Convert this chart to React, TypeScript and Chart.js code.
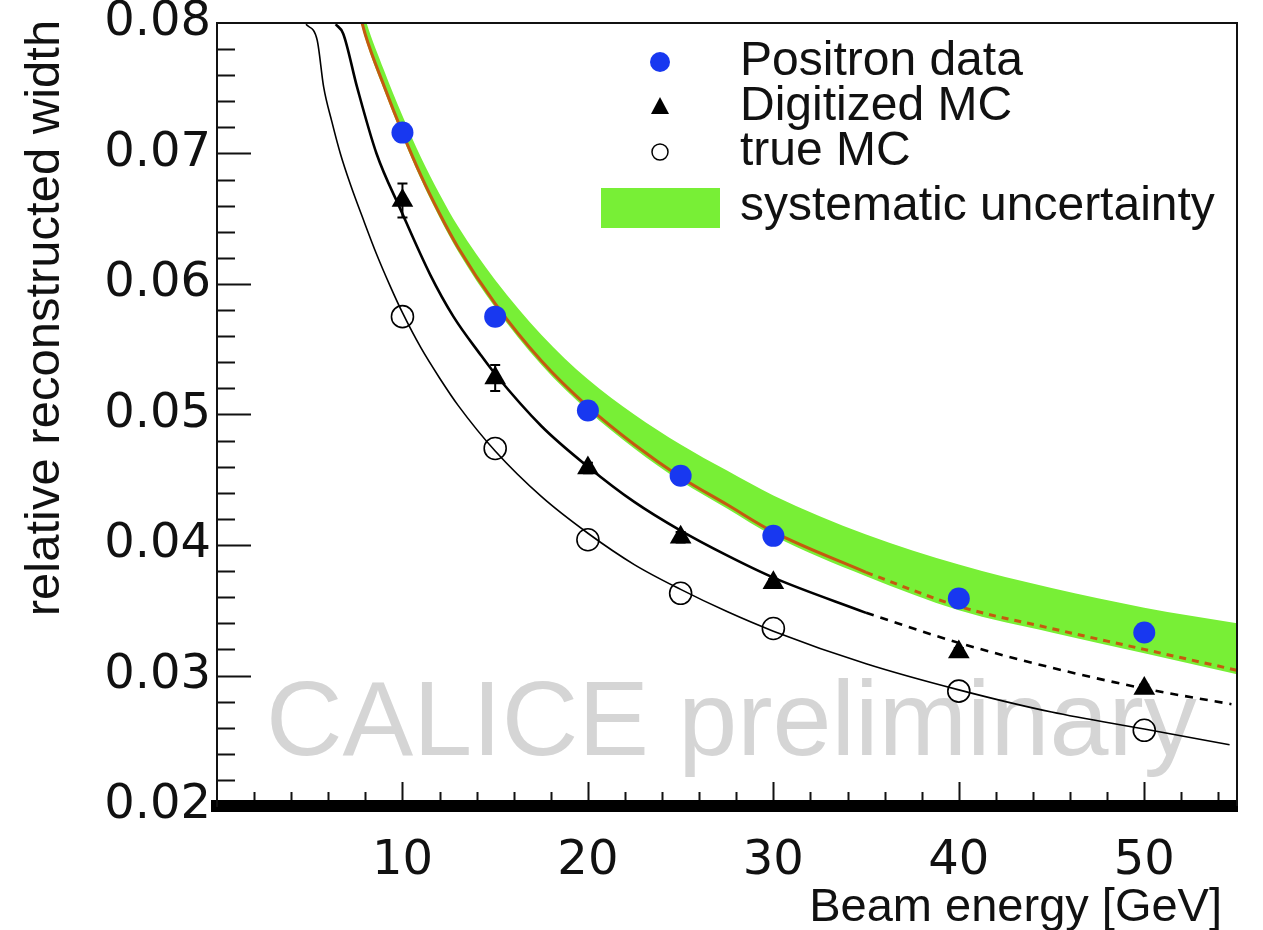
import React, { useEffect, useRef } from 'react';
import { Chart, registerables } from 'chart.js';

Chart.register(...registerables);

// ---------- measured points ----------
const beamEnergies = [10, 15, 20, 25, 30, 40, 50];
const positronData = [0.0716, 0.0575, 0.0503, 0.0453, 0.0407, 0.0359, 0.0333];
const digitizedMC = [0.0664, 0.0528, 0.0459, 0.0406, 0.0371, 0.0318, 0.029];
const digitizedMCErr = [0.0013, 0.001, 0.0004, 0.0004, 0.0003, 0.0003, 0.0003];
const trueMC = [0.0575, 0.0474, 0.0404, 0.0363, 0.0336, 0.0288, 0.0258];

// ---------- fitted curves ----------
const positronFitE = [7.5, 8, 9, 10, 11, 12, 13, 15, 17.5, 20, 22.5, 25, 27.5, 30, 35, 40, 45, 50, 55];
const positronFit = [0.0818, 0.0791, 0.0752, 0.0716, 0.0683, 0.0654, 0.0628, 0.0585, 0.0541, 0.0506, 0.0477, 0.0452, 0.0431, 0.041, 0.0379, 0.0353, 0.0336, 0.032, 0.0304];
const bandUpper = [0.083, 0.0803, 0.0764, 0.0729, 0.0697, 0.0669, 0.0644, 0.0603, 0.0561, 0.0527, 0.05, 0.0477, 0.0457, 0.0438, 0.0408, 0.0385, 0.0367, 0.0352, 0.034];
const bandLower = [0.0815, 0.0788, 0.0749, 0.0713, 0.068, 0.0651, 0.0625, 0.0582, 0.0538, 0.0503, 0.0474, 0.0449, 0.0428, 0.0407, 0.0376, 0.035, 0.0333, 0.0317, 0.0301];

const digitizedFitE = [6.4, 6.8, 7.55, 8.6, 9.9, 11.5, 12.75, 14.2, 15, 17.5, 20, 22.5, 25, 27.5, 30, 35, 40, 45, 50, 54.7];
const digitizedFit = [0.0799, 0.0792, 0.0751, 0.07, 0.0657, 0.0607, 0.0575, 0.0546, 0.0531, 0.0491, 0.046, 0.0433, 0.0411, 0.0392, 0.0375, 0.0348, 0.0325, 0.0306, 0.029, 0.0278];

const trueFitE = [4.8, 5.4, 5.75, 6.2, 6.65, 7.2, 7.9, 8.6, 9.35, 10, 11, 12, 13, 15, 17.5, 20, 22.5, 25, 27.5, 30, 35, 40, 45, 50, 54.6];
const trueFit = [0.0799, 0.0787, 0.0751, 0.0724, 0.07, 0.0676, 0.0649, 0.0623, 0.0598, 0.0578, 0.0551, 0.0528, 0.0507, 0.0472, 0.0437, 0.0409, 0.0385, 0.0366, 0.0349, 0.0334, 0.0309, 0.0289, 0.0272, 0.0259, 0.0247];

const fitSolidLimit = 35;

// ---------- axes / text ----------
const xMin = 0;
const xMax = 55;
const yMin = 0.02;
const yMax = 0.08;
const xLabelValues = [10, 20, 30, 40, 50];
const xTitle = 'Beam energy [GeV]';
const yTitle = 'relative reconstructed width';
const legendLabels = ['Positron data', 'Digitized MC', 'true MC', 'systematic uncertainty'];
const watermark = 'CALICE preliminary';

const BLUE = '#1838f0';
const GREEN = '#78ef36';
const ORANGE = '#c45a10';
const SANS = '"Liberation Sans", Arial, Helvetica, sans-serif';
const TICKFONT = '"DejaVu Sans", sans-serif';

const xy = (xs: number[], ys: number[]) => xs.map((x, i) => ({ x, y: ys[i] }));
const solidPart = (xs: number[], ys: number[]) => xy(xs, ys).filter((p) => p.x <= fitSolidLimit);
const dashedPart = (xs: number[], ys: number[]) => xy(xs, ys).filter((p) => p.x >= fitSolidLimit);

export default function App() {
  const ref = useRef<HTMLCanvasElement>(null);

  useEffect(() => {
    const canvas = ref.current;
    if (!canvas) return;

    const decor = {
      id: 'decor',
      beforeDatasetsDraw(chart: any) {
        const ctx = chart.ctx;
        ctx.save();
        ctx.fillStyle = 'rgb(213,213,213)';
        ctx.font = `106px ${SANS}`;
        ctx.textAlign = 'left';
        ctx.textBaseline = 'alphabetic';
        ctx.fillText(watermark, 266, 755);
        ctx.restore();
      },
      afterDatasetsDraw(chart: any) {
        const ctx = chart.ctx;
        const xs = chart.scales.x;
        const ys = chart.scales.y;
        ctx.save();
        ctx.strokeStyle = '#000';
        ctx.lineWidth = 2;
        beamEnergies.forEach((e, i) => {
          const px = xs.getPixelForValue(e);
          const top = ys.getPixelForValue(digitizedMC[i] + digitizedMCErr[i]);
          const bot = ys.getPixelForValue(digitizedMC[i] - digitizedMCErr[i]);
          ctx.beginPath();
          ctx.moveTo(px, top);
          ctx.lineTo(px, bot);
          ctx.moveTo(px - 5, top);
          ctx.lineTo(px + 5, top);
          ctx.moveTo(px - 5, bot);
          ctx.lineTo(px + 5, bot);
          ctx.stroke();
        });
        ctx.restore();
      },
      afterDraw(chart: any) {
        const ctx = chart.ctx;
        const a = chart.chartArea;
        const xs = chart.scales.x;
        const ys = chart.scales.y;
        ctx.save();
        // frame (top, right)
        ctx.strokeStyle = '#111';
        ctx.lineWidth = 2;
        ctx.beginPath();
        ctx.moveTo(a.left, a.top);
        ctx.lineTo(a.right, a.top);
        ctx.lineTo(a.right, a.bottom);
        ctx.stroke();
        // inner ticks x
        ctx.lineWidth = 2;
        ctx.beginPath();
        for (let v = 2; v < xMax; v += 2) {
          const px = Math.round(xs.getPixelForValue(v)) + 0.5;
          const len = v % 10 === 0 ? 18 : 8;
          ctx.moveTo(px, a.bottom - 6);
          ctx.lineTo(px, a.bottom - 6 - len);
        }
        // inner ticks y
        for (let k = 1; k < 30; k++) {
          const v = yMin + k * 0.002;
          const py = Math.round(ys.getPixelForValue(v)) + 0.5;
          const len = k % 5 === 0 ? 34 : 18;
          ctx.moveTo(a.left, py);
          ctx.lineTo(a.left + len, py);
        }
        ctx.stroke();

        // axis titles
        ctx.fillStyle = '#111';
        ctx.font = `47px ${SANS}`;
        ctx.textAlign = 'right';
        ctx.textBaseline = 'alphabetic';
        ctx.fillText(xTitle, 1222, 921);
        ctx.save();
        ctx.translate(45, 318);
        ctx.rotate(-Math.PI / 2);
        ctx.textAlign = 'center';
        ctx.textBaseline = 'middle';
        ctx.font = `49px ${SANS}`;
        ctx.fillText(yTitle, 0, 0);
        ctx.restore();

        // legend
        const mx = 660;
        const rows = [62, 107, 152, 207];
        ctx.fillStyle = BLUE;
        ctx.beginPath();
        ctx.arc(mx, rows[0], 10, 0, Math.PI * 2);
        ctx.fill();
        ctx.fillStyle = '#000';
        ctx.beginPath();
        ctx.moveTo(mx, rows[1] - 10);
        ctx.lineTo(mx + 9, rows[1] + 7);
        ctx.lineTo(mx - 9, rows[1] + 7);
        ctx.closePath();
        ctx.fill();
        ctx.strokeStyle = '#000';
        ctx.lineWidth = 1.5;
        ctx.beginPath();
        ctx.arc(mx, rows[2], 8, 0, Math.PI * 2);
        ctx.stroke();
        ctx.fillStyle = GREEN;
        ctx.fillRect(601, 188, 119, 40);
        ctx.fillStyle = '#111';
        ctx.font = `48px ${SANS}`;
        ctx.textAlign = 'left';
        ctx.textBaseline = 'middle';
        legendLabels.forEach((t, i) => ctx.fillText(t, 740, rows[i]));
        ctx.restore();
      },
    };

    const chart = new Chart(canvas, {
      type: 'scatter',
      data: {
        datasets: [
          {
            type: 'line',
            label: 'band lower',
            data: xy(positronFitE, bandLower),
            borderWidth: 0,
            borderColor: 'rgba(0,0,0,0)',
            pointRadius: 0,
            fill: false,
            cubicInterpolationMode: 'monotone',
            order: 5,
            clip: 0,
          },
          {
            type: 'line',
            label: 'systematic uncertainty',
            data: xy(positronFitE, bandUpper),
            borderWidth: 0,
            borderColor: 'rgba(0,0,0,0)',
            backgroundColor: GREEN,
            pointRadius: 0,
            fill: '-1',
            cubicInterpolationMode: 'monotone',
            order: 5,
            clip: 0,
          },
          {
            type: 'line',
            label: 'true MC fit',
            data: xy(trueFitE, trueFit),
            borderColor: '#000',
            borderWidth: 1.6,
            pointRadius: 0,
            fill: false,
            cubicInterpolationMode: 'monotone',
            order: 3,
            clip: 0,
          },
          {
            type: 'line',
            label: 'digitized fit',
            data: solidPart(digitizedFitE, digitizedFit),
            borderColor: '#000',
            borderWidth: 2.6,
            pointRadius: 0,
            fill: false,
            cubicInterpolationMode: 'monotone',
            order: 3,
            clip: 0,
          },
          {
            type: 'line',
            label: 'digitized fit extrapolated',
            data: dashedPart(digitizedFitE, digitizedFit),
            borderColor: '#000',
            borderWidth: 2.6,
            borderDash: [8, 7],
            pointRadius: 0,
            fill: false,
            cubicInterpolationMode: 'monotone',
            order: 3,
            clip: 0,
          },
          {
            type: 'line',
            label: 'positron fit',
            data: solidPart(positronFitE, positronFit),
            borderColor: ORANGE,
            borderWidth: 3,
            pointRadius: 0,
            fill: false,
            cubicInterpolationMode: 'monotone',
            order: 3,
            clip: 0,
          },
          {
            type: 'line',
            label: 'positron fit extrapolated',
            data: dashedPart(positronFitE, positronFit),
            borderColor: ORANGE,
            borderWidth: 3,
            borderDash: [7, 6],
            pointRadius: 0,
            fill: false,
            cubicInterpolationMode: 'monotone',
            order: 3,
            clip: 0,
          },
          {
            label: legendLabels[2],
            data: xy(beamEnergies, trueMC),
            pointStyle: 'circle',
            pointRadius: 11,
            pointBorderWidth: 1.6,
            pointBorderColor: '#000',
            pointBackgroundColor: 'rgba(0,0,0,0)',
            order: 1,
          },
          {
            label: legendLabels[1],
            data: xy(beamEnergies, digitizedMC),
            pointStyle: 'triangle',
            pointRadius: 12.5,
            pointBorderWidth: 0,
            pointBackgroundColor: '#000',
            pointBorderColor: '#000',
            order: 1,
          },
          {
            label: legendLabels[0],
            data: xy(beamEnergies, positronData),
            pointStyle: 'circle',
            pointRadius: 11,
            pointBorderWidth: 0,
            pointBackgroundColor: BLUE,
            pointBorderColor: BLUE,
            order: 1,
          },
        ],
      } as any,
      options: {
        responsive: false,
        animation: false,
        devicePixelRatio: 1,
        events: [],
        layout: { padding: { top: 23, right: 26, left: 0, bottom: 0 } },
        plugins: { legend: { display: false }, tooltip: { enabled: false } },
        scales: {
          x: {
            type: 'linear',
            min: xMin,
            max: xMax,
            grid: { display: false, drawTicks: false, tickLength: 0 },
            border: { display: true, color: '#000', width: 12 },
            ticks: {
              stepSize: 10,
              autoSkip: false,
              maxRotation: 0,
              padding: 27,
              color: '#111',
              font: { family: TICKFONT, size: 48 },
              callback: (v: any) => (xLabelValues.includes(Number(v)) ? String(v) : ''),
            },
            afterFit: (s: any) => {
              s.height = 124;
              s.paddingLeft = 0;
              s.paddingRight = 0;
            },
          },
          y: {
            type: 'linear',
            min: yMin,
            max: yMax,
            grid: { display: false, drawTicks: false, tickLength: 0 },
            border: { display: true, color: '#111', width: 2 },
            ticks: {
              stepSize: 0.01,
              padding: 6,
              color: '#111',
              font: { family: TICKFONT, size: 48 },
              callback: (v: any) => Number(v).toFixed(2),
            },
            afterFit: (s: any) => {
              s.width = 217;
              s.paddingTop = 0;
              s.paddingBottom = 0;
            },
          },
        },
      } as any,
      plugins: [decor],
    });

    return () => chart.destroy();
  }, []);

  return (
    <div style={{ position: 'fixed', left: 0, top: 0, width: 1263, height: 930, background: '#fff' }}>
      <canvas ref={ref} width={1263} height={930} style={{ width: 1263, height: 930, display: 'block' }} />
    </div>
  );
}
